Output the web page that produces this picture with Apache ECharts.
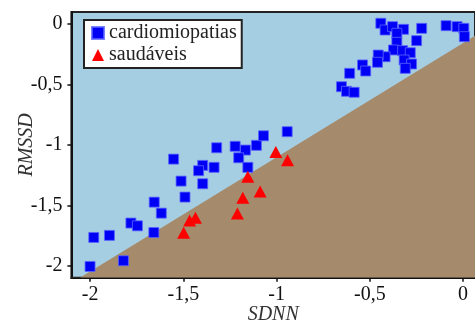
<!DOCTYPE html>
<html>
<head>
<meta charset="utf-8">
<script src="https://cdn.jsdelivr.net/npm/echarts@6/dist/echarts.min.js"></script>
<style>html,body{margin:0;padding:0;background:#fff}#c{width:475px;height:327px}</style>
</head>
<body>
<div id="c"></div>
<script>
const cardioX = [-2.000,-1.821,-1.980,-1.896,-1.781,-1.746,-1.658,-1.656,-1.618,-1.552,-1.512,-1.491,-1.396,-1.418,-1.396,-1.335,-1.321,-1.222,-1.167,-1.203,-1.154,-1.108,-1.070,-0.943,
  -0.441,-0.418,-0.378,-0.319,-0.355,-0.222,-0.249,-0.355,-0.373,-0.324,-0.418,-0.455,-0.283,-0.459,-0.316,-0.276,-0.310,-0.539,-0.522,-0.608,-0.652,-0.625,-0.584,-0.091,-0.032,0.004,0.007];
const cardioY = [-2.006,-1.959,-1.766,-1.749,-1.647,-1.670,-1.725,-1.474,-1.565,-1.118,-1.300,-1.432,-1.170,-1.214,-1.322,-1.186,-1.024,-1.012,-1.043,-1.107,-1.186,-1.004,-0.925,-0.891,
  0.006,-0.050,-0.022,-0.044,-0.077,-0.036,-0.138,-0.152,-0.215,-0.221,-0.271,-0.257,-0.238,-0.317,-0.298,-0.331,-0.367,-0.339,-0.389,-0.408,-0.519,-0.557,-0.565,-0.014,-0.022,-0.036,-0.105];
const healthyX = [-1.004,-0.941,-1.154,-1.088,-1.181,-1.210,-1.435,-1.466,-1.498];
const healthyY = [-1.060,-1.128,-1.264,-1.385,-1.438,-1.567,-1.603,-1.625,-1.727];
const boundaryX = [-2.2, 0.2];
const boundaryY = [-2.237, 0.032];
const tickValues = [-2, -1.5, -1, -0.5, 0];
const seriesNames = ['cardiomiopatias', 'saudáveis'];
const xName = 'SDNN', yName = 'RMSSD';

const zip = (a, b) => a.map((v, i) => [v, b[i]]);
const fmt = v => String(v).replace('.', ',');
const serif = 'Liberation Serif';

const axisCommon = {
  type: 'value', min: -2.1, max: 0.1,
  splitLine: { show: false },
  axisLine: { show: true, onZero: false, lineStyle: { color: '#111', width: 2 } },
  axisTick: { show: true, length: 4, customValues: tickValues, lineStyle: { color: '#111', width: 1.5 } },
  axisLabel: { customValues: tickValues, formatter: fmt, color: '#111', fontFamily: serif, fontSize: 20 },
  nameLocation: 'middle',
  nameMoveOverlap: false,
  nameTextStyle: { fontFamily: serif, fontStyle: 'italic', fontSize: 20, color: '#333' }
};

const chart = echarts.init(document.getElementById('c'), null, { renderer: 'canvas' });
chart.setOption({
  animation: false,
  grid: { left: 71.4, top: 11.9, right: 0, bottom: 49.2, show: true, containLabel: false,
          outerBoundsMode: 'none',
          backgroundColor: '#A6CEE2', borderColor: '#222', borderWidth: 2 },
  xAxis: Object.assign({}, axisCommon, { max: 0.064, name: xName, nameGap: 27,
          axisLabel: Object.assign({}, axisCommon.axisLabel, { margin: 7 }) }),
  yAxis: Object.assign({}, axisCommon, { name: yName, nameGap: 35,
          axisLabel: Object.assign({}, axisCommon.axisLabel, { margin: 9 }) }),
  legend: {
    data: [{ name: seriesNames[0], icon: 'rect' }, { name: seriesNames[1], icon: 'triangle' }],
    orient: 'vertical', left: 84, top: 20,
    backgroundColor: '#fff', borderColor: '#222', borderWidth: 2, borderRadius: 0,
    padding: [3, 5, 3, 7], itemGap: 2, itemWidth: 12, itemHeight: 12,
    textStyle: { fontFamily: serif, fontSize: 20, color: '#222' }
  },
  series: [
    { type: 'line', data: zip(boundaryX, boundaryY), symbol: 'none', silent: true,
      lineStyle: { width: 0 }, areaStyle: { color: '#A68A6C', opacity: 1, origin: 'start' }, z: 1 },
    { name: seriesNames[0], type: 'scatter', symbol: 'rect', symbolSize: 10,
      data: zip(cardioX, cardioY), z: 3,
      itemStyle: { color: '#0000F5', borderColor: 'rgba(90,100,255,0.8)', borderWidth: 1, opacity: 1 } },
    { name: seriesNames[1], type: 'scatter', symbol: 'triangle', symbolSize: [13, 12],
      data: zip(healthyX, healthyY), z: 4,
      itemStyle: { color: '#FF0000', opacity: 1 } }
  ]
});
</script>
</body>
</html>
